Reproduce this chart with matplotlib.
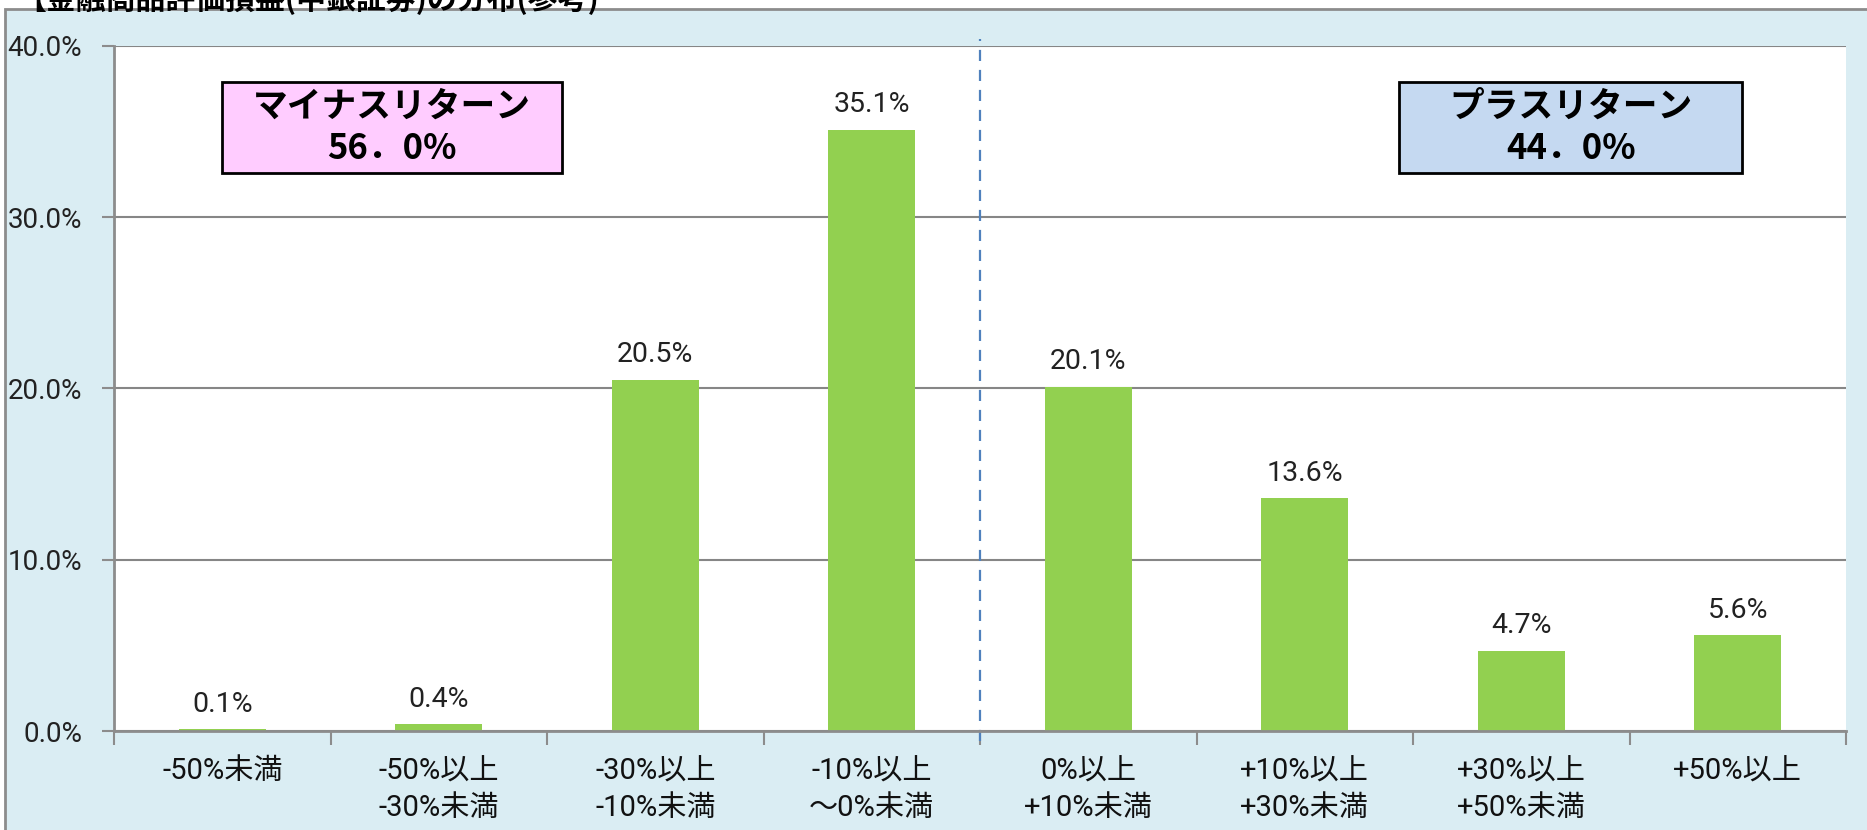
import matplotlib
matplotlib.use("Agg")
import matplotlib.pyplot as plt
from matplotlib.patches import Rectangle
from matplotlib.ticker import FixedLocator, PercentFormatter

plt.rcParams['font.family'] = ['Roboto', 'Noto Sans CJK JP', 'DejaVu Sans']

categories = ['-50%未満', '-50%以上\n-30%未満', '-30%以上\n-10%未満', '-10%以上\n～0%未満',
              '0%以上\n+10%未満', '+10%以上\n+30%未満', '+30%以上\n+50%未満', '+50%以上']
values = [0.1, 0.4, 20.5, 35.1, 20.1, 13.6, 4.7, 5.6]
yticks = [0, 10, 20, 30, 40]
title = '【金融商品評価損益(中銀証券)の分布(参考)'
minus_text = 'マイナスリターン\n56．0%'
plus_text = 'プラスリターン\n44．0%'

W, H = 1867, 830
fig = plt.figure(figsize=(W / 100, H / 100), dpi=100)
fig.patch.set_facecolor('white')

# outer chart area
bg = Rectangle((5 / W, -0.1), 1.2, (830 - 9) / H + 0.1, transform=fig.transFigure,
               facecolor='#DAEDF3', edgecolor='#8C8C8C', linewidth=2, zorder=-10)
fig.patches.append(bg)

fig.text(16 / W, 1 + 1 / H, title, fontsize=21.5, fontweight='bold', va='center', ha='left',
         family=['Noto Sans CJK JP'], color='black', zorder=-5)

ax = fig.add_axes([114 / W, (830 - 731) / H, (1846 - 114) / W, (731 - 46) / H])
ax.set_zorder(5)
ax.set_facecolor('white')
x = list(range(len(categories)))
ax.bar(x, values, width=0.40, color='#92D050', zorder=3)
ax.set_xlim(-0.5, len(categories) - 0.5)
ax.set_ylim(0, 40)

ax.yaxis.set_major_locator(FixedLocator(yticks))
ax.yaxis.set_major_formatter(PercentFormatter(decimals=1))
ax.grid(axis='y', color='#868686', linewidth=1.5, zorder=1)
ax.set_axisbelow(True)

for s in ['top', 'right']:
    ax.spines[s].set_visible(False)
for s in ['left', 'bottom']:
    ax.spines[s].set_color('#8C8C8C')
    ax.spines[s].set_linewidth(2)
    ax.spines[s].set_zorder(4)

ax.set_xticks(x)
ax.set_xticklabels(categories, fontsize=21, linespacing=1.4)
ax.tick_params(axis='x', which='major', length=0, pad=19)
ax.set_xticks([i - 0.5 for i in range(len(categories) + 1)], minor=True)
ax.tick_params(axis='x', which='minor', length=10, width=1.5, color='#8C8C8C')
ax.tick_params(axis='y', length=9, width=1.5, color='#8C8C8C', labelsize=20, pad=14)
for lab in ax.get_yticklabels():
    lab.set_color('#222222')
for lab in ax.get_xticklabels():
    lab.set_color('#111111')
    lab.set_verticalalignment('top')

for xi, v in zip(x, values):
    ax.annotate(f'{v:.1f}%', (xi, v), xytext=(0, 18), textcoords='offset points',
                ha='center', va='center', fontsize=20.5, color='#222222', zorder=5)

# dashed divider between minus and plus returns
ax.plot([3.5, 3.5], [-0.6, 40.4], color='#4F81BD', linestyle=(0, (5, 4)), linewidth=1.6,
        clip_on=False, zorder=4)

# annotation boxes
for (x0, x1, fc, txt) in [(0.0624, 0.2587, '#FFCCFF', minus_text),
                          (0.742, 0.940, '#C5D9F1', plus_text)]:
    y0, y1 = 0.8146, 0.947
    ax.add_patch(Rectangle((x0, y0), x1 - x0, y1 - y0, transform=ax.transAxes,
                           facecolor=fc, edgecolor='black', linewidth=2, zorder=6))
    ax.text((x0 + x1) / 2, (y0 + y1) / 2, txt, transform=ax.transAxes, ha='center', va='center',
            fontsize=25, fontweight='bold', family=['Noto Sans CJK JP'], linespacing=1.25,
            color='black', zorder=7)

fig.savefig('out.png', dpi=100, facecolor='white')
